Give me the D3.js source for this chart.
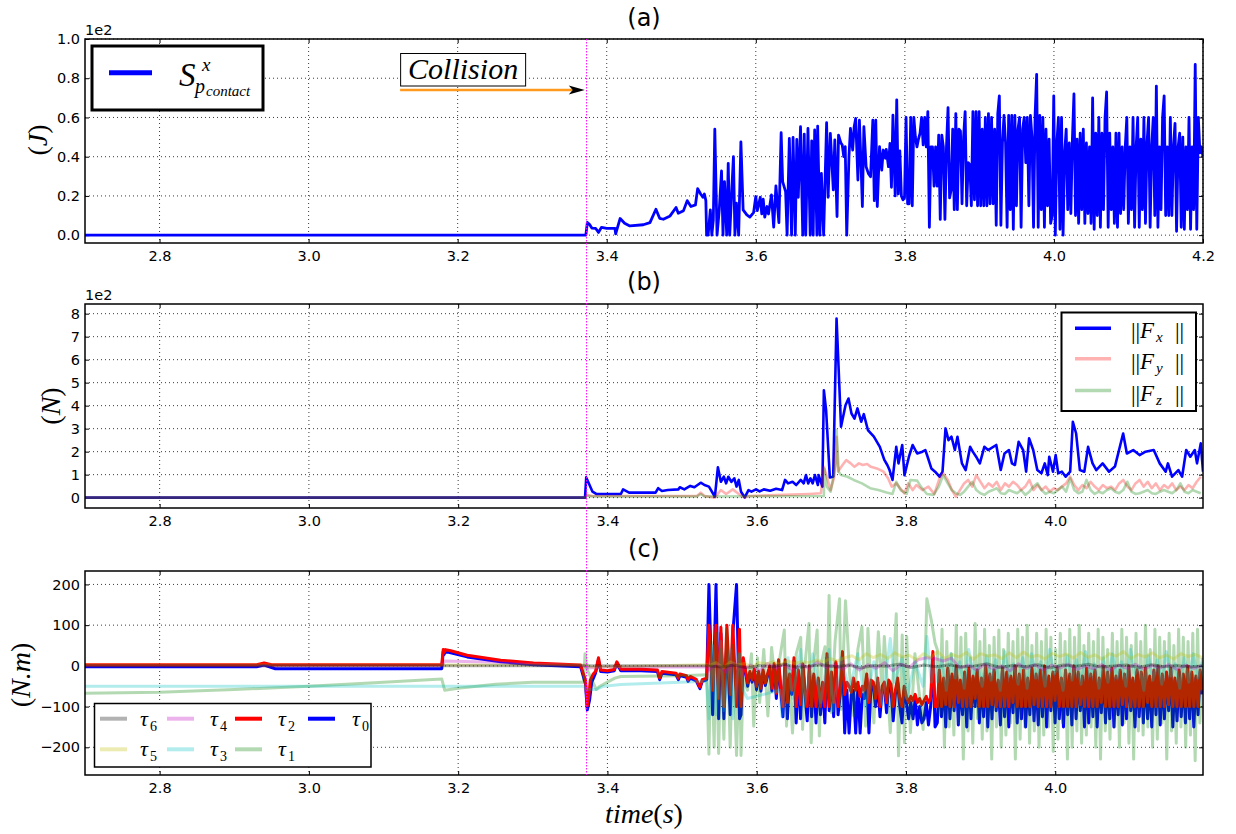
<!DOCTYPE html>
<html><head><meta charset="utf-8">
<script src="https://cdn.jsdelivr.net/npm/d3@7"></script>
<style>body{margin:0;background:#fff}svg{display:block}</style>
</head><body><svg id="c" width="1236" height="834"></svg>
<script>
// ---------------- DATA ----------------
const panelTitles = ["(a)", "(b)", "(c)"];
const xTicksA = [2.8, 3.0, 3.2, 3.4, 3.6, 3.8, 4.0, 4.2];
const xTicksBC = [2.8, 3.0, 3.2, 3.4, 3.6, 3.8, 4.0];
const yTicksA = [0, 20, 40, 60, 80, 100];
const yTicksB = [0, 100, 200, 300, 400, 500, 600, 700, 800];
const yTicksC = [-200, -100, 0, 100, 200];
const collisionTime = 3.373;

// (a) S^x_{p_contact}  [time s, J]
const sContactPairs = [[2.7,0],[3.372,0],[3.374,6.5],[3.377,5.4],[3.38,3.6],[3.385,3.5],[3.389,1.4],[3.393,4],[3.4,3.5],[3.411,3.5],[3.412,0.7],[3.418,8.5],[3.424,6.1],[3.431,4.7],[3.449,5.3],[3.458,6.4],[3.466,13.2],[3.471,8.6],[3.476,8.1],[3.485,9.8],[3.493,14.1],[3.496,11.2],[3.503,12.5],[3.508,17.6],[3.513,14.6],[3.519,15.4],[3.522,23.7],[3.526,21],[3.529,19.3],[3.531,21],[3.533,17.6],[3.534,0],
[3.536,0],[3.539,12.9],[3.541,0],[3.543,7.8],[3.545,54],[3.548,0],[3.551,12.9],[3.554,32.7],[3.556,0],[3.558,27.3],[3.561,0],[3.563,36.6],[3.565,0],[3.568,24.7],[3.570,40],[3.572,0],[3.574,16.3],[3.577,0],[3.580,47.6],[3.583,12.9],[3.588,10.3],[3.592,9.2],[3.597,11.5],[3.600,19.7],[3.602,12.5],[3.606,19.3],[3.608,10.8],[3.610,18.3],[3.612,9.2],[3.615,14.6],[3.617,10.8],[3.621,20.5],[3.624,4.1],[3.627,25.1],[3.631,6.4],[3.634,52.2],[3.636,27.3],[3.640,22.2],[3.642,0],[3.645,49.3],[3.648,0],[3.650,49.8],[3.653,0],[3.655,48.8],[3.657,19.3],[3.660,55.3],[3.663,0],[3.665,51.5],[3.667,0],[3.670,54.4],[3.673,0],[3.675,48.1],[3.677,0],[3.679,53.6],[3.682,0],[3.683,55.6],[3.686,0],[3.688,31.5],[3.691,0],[3.695,57.3],[3.697,19.3],[3.700,51.9],[3.704,23.1],[3.706,48.5],[3.709,9.5],[3.711,51],[3.714,47.1],[3.716,45.9],[3.718,40],[3.720,45.1],[3.722,0],[3.725,40],[3.727,54.4],[3.730,43.4],[3.732,55.3],[3.734,59.5],[3.737,28.1],[3.739,58.6],[3.741,38.3],[3.743,14.6],[3.745,55.3],[3.748,34.9],[3.751,31.5],[3.754,29.8],[3.757,58.6],[3.759,17.6],[3.761,58.6],[3.763,14.6],[3.766,45.1],[3.769,33.2],[3.771,43.4],[3.774,39.2],[3.775,43.7],[3.778,34.9],[3.780,46.8],[3.782,24.4],[3.784,61.2]];
const sContactDenseSpan = [3.787, 4.2];
const sContactDense = [20,69,21,43,20,18,19,60,16,16,60,15,60,50,45,49,52,60,46,60,45,63,4,45,45,25,45,25,51,8,51,45,8,45,65,19,23,54,13,62,13,54,53,16,50,63,15,37,36,15,63,18,63,15,63,15,54,15,60,15,62,16,60,16,54,5,62,71,5,47,61,47,4,61,13,61,3,61,15,54,60,4,54,60,37,60,15,61,50,4,61,82,4,61,13,60,4,54,15,49,6,10,71,0,47,60,3,60,0,42,54,13,47,11,49,72,10,49,6,52,13,54,6,47,11,45,6,70,3,52,10,60,4,52,13,60,73,4,52,13,45,6,52,4,52,11,45,13,45,60,6,45,13,60,4,45,60,4,49,13,60,6,47,60,4,45,60,10,76,4,45,13,60,71,10,45,10,60,10,45,57,2,45,52,4,50,3,45,13,60,3,45,13,87,3,60,42,45,40];

// (b) forces [time s, N]
const fxPairs = [[2.7,0],[3.37,0],[3.3716,88],[3.380,26],[3.385,16],[3.418,16],[3.421,36],[3.429,22],[3.4645,22],[3.468,41],[3.473,29],[3.481,33],[3.495,36],[3.497,45],[3.503,36],[3.511,51],[3.5165,45],[3.525,65],[3.530,55],[3.536,48],[3.544,4],[3.548,132],[3.552,69],[3.556,91],[3.559,62],[3.562,91],[3.566,69],[3.570,84],[3.573,48],[3.576,77],[3.579,26],[3.584,1],[3.589,33],[3.593,26],[3.599,36],[3.604,27],[3.6095,36],[3.618,30],[3.626,39],[3.634,33],[3.638,77],[3.642,62],[3.648,69],[3.653,55],[3.659,77],[3.663,62],[3.666,98],[3.669,62],[3.672,84],[3.675,62],[3.678,98],[3.682,55],[3.683,98],[3.688,48],[3.690,467],[3.693,381],[3.698,88],[3.7025,91],[3.707,779],[3.713,308],[3.719,402],[3.723,431],[3.727,366],[3.731,344],[3.735,388],[3.740,330],[3.7435,363],[3.749,294],[3.757,265],[3.765,221],[3.771,164],[3.775,142],[3.778,120],[3.782,77],[3.787,221],[3.790,149],[3.795,229],[3.798,98],[3.804,178],[3.809,229],[3.815,192],[3.822,200],[3.826,207],[3.829,178],[3.834,127],[3.839,113],[3.845,91],[3.849,113],[3.853,301],[3.857,250],[3.861,265],[3.8655,207],[3.869,265],[3.875,149],[3.880,120],[3.886,221],[3.8895,200],[3.894,178],[3.899,149],[3.905,221],[3.910,207],[3.921,229],[3.927,120],[3.932,192],[3.938,207],[3.942,149],[3.946,142],[3.951,243],[3.957,207],[3.961,113],[3.965,258],[3.9705,207],[3.976,120],[3.9815,106],[3.986,149],[3.990,98],[3.992,178],[3.997,113],[4.0006,185],[4.004,106],[4.009,113],[4.014,91],[4.020,113],[4.0236,330],[4.028,279],[4.033,120],[4.039,113],[4.044,221],[4.050,149],[4.055,120],[4.0635,149],[4.072,113],[4.080,135],[4.091,279],[4.096,192],[4.1045,207],[4.113,185],[4.121,200],[4.132,207],[4.140,149],[4.148,113],[4.151,149],[4.1565,91],[4.165,120],[4.170,91],[4.1755,207],[4.181,178],[4.187,207],[4.190,149],[4.195,236],[4.198,113]];
const fyPairs = [[2.7,0],[3.37,0],[3.372,12],[3.38,7],[3.52,7],[3.525,22],[3.53,7],[3.544,0],[3.552,33],[3.559,16],[3.568,36],[3.576,16],[3.584,0],[3.589,7],[3.637,12],[3.670,16],[3.686,19],[3.690,134],[3.694,91],[3.699,33],[3.704,91],[3.707,265],[3.709,114],[3.715,142],[3.720,163],[3.726,149],[3.731,134],[3.737,149],[3.742,142],[3.748,146],[3.753,134],[3.761,127],[3.770,113],[3.776,84],[3.781,48],[3.787,62],[3.792,41],[3.798,19],[3.803,62],[3.809,33],[3.814,55],[3.822,33],[3.830,48],[3.838,16],[3.845,84],[3.850,106]];
const fzPairs = [[2.7,0],[3.37,0],[3.372,8],[3.38,5],[3.52,5],[3.525,15],[3.53,5],[3.69,7],[3.6905,127],[3.694,48],[3.699,26],[3.706,150],[3.707,294],[3.710,113],[3.713,98],[3.7216,91],[3.730,77],[3.741,62],[3.752,41],[3.763,33],[3.774,22],[3.782,16],[3.787,69],[3.793,33],[3.801,16],[3.806,77],[3.815,74],[3.820,48],[3.828,16],[3.837,12],[3.844,48],[3.850,98]];
const fDenseSpan = [3.856, 4.195];
const fyDense = [77,33,4,33,62,77,48,98,69,41,62,48,69,33,62,48,69,55,33,48,77,33,55,33,48,26,41,33,48,62,91,55,33,55,41,69,48,33,55,41,48,33,62,77,48,33,62,77,48,69,41,62,33,55,41,62,33,48,33,55,41,69,91];
const fzDense = [62,33,19,12,26,48,69,33,19,12,26,33,41,19,16,33,26,19,33,12,26,48,62,33,16,26,19,33,48,26,84,33,19,26,77,33,16,26,19,33,41,26,19,33,69,26,16,19,26,33,19,16,26,33,26,19,33,62,26,19,33,26,19];

// (c) joint torques [time s, N.m]
const tau0Pairs = [[2.7,-2],[2.93,-2],[2.94,2],[2.955,-7],[3.178,-7],[3.18,35],[3.181,28],[3.183,35],[3.19,32],[3.212,22],[3.257,10],[3.301,3],[3.364,-2],[3.3706,-45],[3.373,-108],[3.376,-85],[3.379,-40],[3.384,-18],[3.388,15],[3.391,-14],[3.4,-15],[3.409,-12],[3.4126,6],[3.418,-12],[3.445,-12],[3.467,-14],[3.470,-34],[3.473,-18],[3.492,-22],[3.495,-34],[3.497,-24],[3.506,-28],[3.508,-38],[3.511,-30],[3.519,-37],[3.524,-56],[3.527,-38],[3.533,-34],
[3.536,200],[3.541,-120],[3.5455,200],[3.549,-130],[3.552,80],[3.556,-130],[3.560,60],[3.5645,-120],[3.568,80],[3.573,200],[3.577,-130],[3.579,-120]];
const tau2Pairs = [[2.7,3],[2.93,3],[2.94,7],[2.95,3],[3.178,3],[3.18,40],[3.181,33],[3.183,40],[3.19,37],[3.212,26],[3.257,14],[3.301,7],[3.364,2],[3.3706,-35],[3.373,-98],[3.375,-76],[3.377,-35],[3.381,-20],[3.384,-14],[3.388,20],[3.391,-10],[3.4,-12],[3.409,-9],[3.4126,10],[3.418,-8],[3.445,-8],[3.467,-10],[3.470,-30],[3.473,-14],[3.492,-18],[3.495,-30],[3.497,-20],[3.506,-24],[3.508,-34],[3.511,-26],[3.519,-33],[3.524,-52],[3.527,-34],[3.533,-30],
[3.536,100],[3.541,-60],[3.5455,100],[3.549,-80],[3.552,95],[3.556,-100],[3.560,100],[3.5645,-70],[3.568,100],[3.573,-100],[3.577,90],[3.579,-100]];
const tauMidSpan = [3.582, 3.839];
const tau2Mid = [20,-10,-42,-14,-34,-8,-50,-14,-55,-10,-42,-20,0,-55,6,-67,15,-50,-100,
  15,-90,-20,-60,20,-100,-10,-95,5,-60,-100,0,-100,-20,-100,-30,-100,-40,-100,30,-100,-15,-90,10,-100,-60,
  35,-70,-40,-50,-65,-30,-60,-40,-75,-50,-60,
  -20,-90,-35,-40,-80,-30,-100,-50,-40,-90,-35,-45,-100,-60,-30,-80,-100,-50,-75,-90,
  -75,-85,-70,-90,-80,-95,-85,-75,-90,-80,35,-100];
const tau0Mid = [10,-15,-50,-18,-40,-12,-58,-18,-62,-15,-48,-25,-5,-62,0,-80,8,-60,-125,
  8,-130,-25,-70,12,-140,-15,-130,0,-70,-135,-5,-125,-25,-140,-35,-120,-45,-140,20,-110,-20,-125,5,-120,-70,
  25,-165,-60,-165,-70,-60,-165,-50,-165,-70,-80,
  -30,-165,-40,-50,-100,-40,-125,-60,-50,-115,-45,-55,-135,-70,-40,-100,-140,-60,-90,-130,
  -90,-130,-80,-145,-100,-140,-130,-90,-145,-100,25,-150];
const tau1Pairs = [[2.7,-67],[2.8,-65],[2.9,-58],[3.0,-50],[3.1,-40],[3.178,-32],[3.182,-60],[3.2,-55],[3.25,-45],[3.3,-40],[3.368,-40],[3.370,30],[3.373,-10],[3.378,-30],[3.385,-58],[3.39,-50],[3.40,-40],[3.41,-30],[3.418,-26],[3.5,-24],[3.533,-22],
[3.536,-217],[3.539,60],[3.543,-200],[3.5455,80],[3.549,-215],[3.552,40],[3.556,-180],[3.560,90],[3.5645,-200],[3.568,50],[3.573,-220],[3.577,30],[3.579,-220],[3.582,-30],[3.5876,-60],[3.593,30],[3.596,-148],[3.601,20],[3.604,-90],[3.6095,40],[3.615,-123],[3.620,45],[3.626,-60],[3.631,20],[3.637,88],[3.640,-148],[3.643,0],[3.648,-165],[3.653,30],[3.659,70],[3.6615,-156],[3.665,10],[3.670,104],[3.673,-189],[3.677,20],[3.681,88],[3.684,-172],[3.687,10],[3.6915,47],[3.694,-80],[3.697,173],[3.700,-115],[3.705,60],[3.711,165],[3.713,-107],[3.719,160],[3.7245,-20],[3.730,-123],[3.7355,40],[3.741,96],[3.746,-148],[3.749,92],[3.753,-50],[3.757,-140],[3.763,84],[3.768,-60],[3.771,72],[3.779,-164],[3.787,128],[3.790,-221],[3.795,76],[3.798,-189],[3.801,72],[3.806,-164],[3.812,30],[3.823,-156],[3.828,165],[3.834,112],[3.839,56]];
const tau3Pairs = [[2.7,-50],[3.368,-50],[3.372,-58],[3.385,-58],[3.395,-50],[3.418,-46],[3.533,-38],
[3.536,-130],[3.541,50],[3.5455,-120],[3.552,60],[3.556,-110],[3.5645,40],[3.568,-130],[3.577,30],[3.582,-60],[3.5876,-80],[3.6095,-70],[3.631,-60],[3.634,-124],[3.637,-40],[3.642,20],[3.648,-80],[3.659,40],[3.664,-100],[3.675,30],[3.686,-90],[3.6915,-20],[3.697,40],[3.702,-110],[3.713,20],[3.7245,-60],[3.7355,30],[3.746,-100],[3.757,10],[3.768,-95],[3.779,67],[3.7845,-40],[3.795,20],[3.801,-80],[3.812,10],[3.823,-50],[3.828,72],[3.834,-40],[3.839,10]];
const tau4Pairs = [[2.7,0],[3.178,0],[3.182,12],[3.25,9],[3.3,4],[3.368,1],[3.373,-5],[3.4,-3],[3.533,-2]];
const tau5Pairs = [[2.7,2],[3.37,2],[3.38,-3],[3.533,3]];
const tau6Pairs = [[2.7,0],[3.533,0]];
const tauDenseSpanA = [3.536, 4.197];
const tauDenseSpanB = [3.842, 4.197];
const tau2Dense = [-100,-10,-100,-30,-95,-5,-100,-20,-100,0,-90,-35,-100,-15,-100,-5,-100,-25,-80,-10,-100,-30,-100,0,-100,-20,-95,-10,-100,-35,-100,-5,-100,-15,-100,-25,-90,0,-100,-20,-100,-10,-100,-30,-100,-5,-95,-20,-100,-10,-100,0,-100,-25,-100,-15,-85,-5,-100,-30,-100,-10,-100,-20,-100,0,-100,-15,-95,-25,-100,-5,-100,-20,-100,-10,-100,-30,-90,0,-100,-15,-100,-5,-100,-25,-100,-10,-95,-20,-100,0,-100,-30,-100,-10,-100,-15,-100,-5,-90,-25,-100,-10,-100,0,-100,-20,-100,-15,-95,-5,-100,-30,-100,-10,-100,-20,-100,0,-100,-15,-100,-25,-100,-10,-60];
const tau0Dense = [-140,-15,-125,-35,-150,-10,-130,-25,-110,-5,-145,-40,-120,-20,-150,-10,-130,-30,-100,-15,-140,-35,-125,-5,-150,-25,-130,-15,-110,-40,-145,-10,-125,-20,-150,-30,-115,-5,-140,-25,-130,-15,-150,-35,-120,-10,-135,-25,-145,-15,-125,-5,-150,-30,-110,-20,-140,-10,-130,-35,-150,-15,-120,-25,-145,-5,-130,-20,-110,-30,-150,-10,-140,-25,-125,-15,-150,-35,-115,-5,-140,-20,-130,-10,-150,-30,-120,-15,-145,-25,-130,-5,-110,-35,-150,-15,-125,-20,-140,-10,-130,-30,-150,-15,-120,-5,-145,-25,-130,-20,-110,-10,-150,-35,-135,-15,-125,-25,-140,-5,-130,-20,-150,-30,-120,-15,-70];
const tau1Dense = [40,-120,90,-200,60,-150,30,-170,100,-140,70,-229,80,-160,20,-190,104,-130,60,-180,90,-160,50,-229,70,-150,88,-200,40,-170,80,-140,60,-229,90,-180,70,-150,100,-190,50,-160,80,-200,60,-170,90,-150,70,-210,40,-180,80,-140,60,-229,90,-200,70,-160,100,-190,50,-170,80,-150,60,-200,90,-229,70,-160,40,-180,80,-150,60,-200,90,-140,70,-190,50,-229,80,-160,60,-170,100,-150,40,-200,90,-180,70,-140,60,-229,80,-160,50,-190,90,-150,70,-200,60,-170,80,-233,90,-140,20];
const tau3Dense = [-40,20,-60,30,-30,10,-55,40,-20,0,-50,25,-35,15,-60,35,-25,5,-45,20,-55,30,-30,10,-50,40,-20,0,-60,25,-35,15,-45,35,-25,5,-55,20,-40,30,-30,10,-50,40,-20,0,-60,25,-35,15,-45,35,-25,5,-55,20,-40,30,-30,10];
const tau4Dense = [-10,5,-15,8,-8,2,-12,6,-5,3,-10,4,-6,10,-4,2,-8,5,-10,3,-6,8,-12,4,-3,15,20,18,12,19,-5,2,-10,4,-8,0,-12,5,-6,3,-10,2,-5,4,-9,0,-7,3,-11,2,-6,4,-8,1,-5,3,-9,2,-6,1];
const tau5Dense = [0,8,-5,10,2,6,-3,8,5,10,3,12,6,10,8,14,10,18,12,20,25,15,30,20,28,18,32,22,26,15,30,20,35,18,28,22,33,16,30,24,27,18,32,20,34,22,26,17,31,23,29,19,33,21,27,16,30,24,35,18,28,22,32,20,26,17,30,23,28,20];
const tau6Dense = [0,-3,2,-5,1,-2,4,-4,0,3,-3,2,-5,1,-1,4,-4,2,-2,3,-3,0,5,-4,1,-2,3,-5,2,-1,4,-3,0,2,-4,3,-2,1,-3,0];

const forceLabels = ["x", "y", "z"];
const tauLegendOrder = [6, 5, 4, 3, 2, 1, 0];

// ---------------- RENDER ----------------
const svg = d3.select("#c");
const L = 85, R = 1203;
const SANS = "DejaVu Sans", SERIF = "Liberation Serif";
const frames = {
  a: {top: 39, bottom: 243},
  b: {top: 304, bottom: 508},
  c: {top: 571, bottom: 775}
};
const xA = d3.scaleLinear().domain([2.7, 4.2]).range([L, R]);
const xBC = d3.scaleLinear().domain([2.7, 4.198]).range([L, R]);
const yA = d3.scaleLinear().domain([-4, 100]).range([frames.a.bottom, frames.a.top]);
const yB = d3.scaleLinear().domain([-45, 842]).range([frames.b.bottom, frames.b.top]);
const yC = d3.scaleLinear().domain([-268, 233]).range([frames.c.bottom, frames.c.top]);

function spread(span, vals) {
  const n = vals.length;
  return vals.map((v, i) => [span[0] + (span[1] - span[0]) * i / (n - 1), v]);
}
function withDense(pairs, span, vals) { return pairs.concat(spread(span, vals)); }

function frame(id, x, y, xt, xf, yt, yf, fr) {
  const g = svg.append("g");
  svg.append("clipPath").attr("id", "clip-" + id).append("rect")
    .attr("x", L).attr("y", fr.top).attr("width", R - L).attr("height", fr.bottom - fr.top);
  const grid = g.append("g").attr("stroke", "#000").attr("stroke-width", 0.9)
    .attr("stroke-dasharray", "1,3").attr("opacity", 0.85);
  xt.forEach(t => grid.append("line").attr("x1", x(t)).attr("x2", x(t)).attr("y1", fr.top).attr("y2", fr.bottom));
  yt.forEach(v => grid.append("line").attr("x1", L).attr("x2", R).attr("y1", y(v)).attr("y2", y(v)));
  const style = sel => {
    sel.select(".domain").remove();
    sel.attr("font-family", SANS).attr("font-size", 14.5);
    sel.selectAll("line").attr("stroke", "#000").attr("stroke-width", 1);
    sel.selectAll("text").attr("fill", "#000");
  };
  g.append("g").attr("transform", `translate(0,${fr.bottom})`)
    .call(d3.axisBottom(x).tickValues(xt).tickFormat(xf).tickSizeInner(-4).tickSizeOuter(0).tickPadding(8)).call(style);
  g.append("g").attr("transform", `translate(0,${fr.top})`)
    .call(d3.axisTop(x).tickValues(xt).tickFormat(() => "").tickSizeInner(-4).tickSizeOuter(0)).call(style);
  g.append("g").attr("transform", `translate(${L},0)`)
    .call(d3.axisLeft(y).tickValues(yt).tickFormat(yf).tickSizeInner(-4).tickSizeOuter(0).tickPadding(5)).call(style);
  g.append("g").attr("transform", `translate(${R},0)`)
    .call(d3.axisRight(y).tickValues(yt).tickFormat(() => "").tickSizeInner(-4).tickSizeOuter(0)).call(style);
  return g;
}

function border(fr) {
  svg.append("rect").attr("x", L).attr("y", fr.top).attr("width", R - L).attr("height", fr.bottom - fr.top)
    .attr("fill", "none").attr("stroke", "#000").attr("stroke-width", 1.5);
}

function series(id, x, y, data, color, width, opacity) {
  svg.append("path").datum(data)
    .attr("clip-path", `url(#clip-${id})`)
    .attr("fill", "none").attr("stroke", color).attr("stroke-width", width)
    .attr("stroke-opacity", opacity).attr("stroke-linejoin", "round")
    .attr("d", d3.line().x(d => x(d[0])).y(d => y(d[1])));
}

const minus = s => s.replace("-", "\u2212");

// ---- Panel (a)
frame("a", xA, yA, xTicksA, d => d.toFixed(1), yTicksA, d => (d / 100).toFixed(1), frames.a);
series("a", xA, yA, withDense(sContactPairs, sContactDenseSpan, sContactDense), "#0000ff", 2.8, 1);
border(frames.a);

// ---- Panel (b)
frame("b", xBC, yB, xTicksBC, d => d.toFixed(1), yTicksB, d => String(d / 100), frames.b);
series("b", xBC, yB, fxPairs, "#0000ff", 2.6, 1);
series("b", xBC, yB, withDense(fyPairs, fDenseSpan, fyDense), "#ff0000", 2.6, 0.3);
series("b", xBC, yB, withDense(fzPairs, fDenseSpan, fzDense), "#008000", 2.6, 0.3);
border(frames.b);

// ---- Panel (c)
frame("c", xBC, yC, xTicksBC, d => d.toFixed(1), yTicksC, d => minus(String(d)), frames.c);
const tauColors = {0: ["#0000ff", 1], 1: ["#008000", 0.3], 2: ["#ff0000", 1], 3: ["#00bfbf", 0.3], 4: ["#bf00bf", 0.3], 5: ["#bfbf00", 0.3], 6: ["#000000", 0.3]};
const tauData = {
  0: tau0Pairs.concat(spread(tauMidSpan, tau0Mid), spread(tauDenseSpanB, tau0Dense)),
  2: tau2Pairs.concat(spread(tauMidSpan, tau2Mid), spread(tauDenseSpanB, tau2Dense)),
  1: withDense(tau1Pairs, tauDenseSpanB, tau1Dense),
  3: withDense(tau3Pairs, tauDenseSpanB, tau3Dense),
  4: withDense(tau4Pairs, tauDenseSpanA, tau4Dense),
  5: withDense(tau5Pairs, tauDenseSpanA, tau5Dense),
  6: withDense(tau6Pairs, tauDenseSpanA, tau6Dense)
};
[0, 2, 1, 3, 4, 5, 6].forEach(k => series("c", xBC, yC, tauData[k], tauColors[k][0], 3, tauColors[k][1]));
border(frames.c);

// ---- Titles
[[panelTitles[0], 26], [panelTitles[1], 290], [panelTitles[2], 557]].forEach(([t, yy]) =>
  svg.append("text").attr("x", (L + R) / 2).attr("y", yy).attr("text-anchor", "middle")
    .attr("font-family", SANS).attr("font-size", 24).text(t));

// ---- offset texts
svg.append("text").attr("x", L).attr("y", 35).attr("font-family", SANS).attr("font-size", 14.5).text("1e2");
svg.append("text").attr("x", L).attr("y", 300).attr("font-family", SANS).attr("font-size", 14.5).text("1e2");

// ---- axis labels (math style)
function mathLabel(x, y, rot, parts, size) {
  const t = svg.append("text").attr("transform", `translate(${x},${y}) rotate(${rot})`)
    .attr("text-anchor", "middle").attr("dominant-baseline", "central")
    .attr("font-family", SERIF).attr("font-size", size);
  parts.forEach(([s, it]) => t.append("tspan").attr("font-style", it ? "italic" : "normal").text(s));
}
mathLabel(37, 140, -90, [["(", 0], ["J", 1], [")", 0]], 28);
mathLabel(50, 406, -90, [["(", 0], ["N", 1], [")", 0]], 28);
mathLabel(20, 675, -90, [["(", 0], ["N.m", 1], [")", 0]], 28);
mathLabel(644, 813, 0, [["time", 1], ["(", 0], ["s", 1], [")", 0]], 28);

// ---- collision marker
svg.append("line").attr("x1", xA(collisionTime)).attr("x2", xA(collisionTime))
  .attr("y1", frames.a.top).attr("y2", frames.c.bottom)
  .attr("stroke", "#ff00ff").attr("stroke-width", 1).attr("stroke-dasharray", "1.5,1.5");
const arrowY = yA(74), arrowX0 = xA(3.1228), tipX = xA(3.3705);
svg.append("line").attr("x1", arrowX0).attr("x2", tipX - 12).attr("y1", arrowY).attr("y2", arrowY)
  .attr("stroke", "#ff9a1f").attr("stroke-width", 2.5);
svg.append("path").attr("d", `M${tipX},${arrowY} L${tipX - 16},${arrowY - 4.5} L${tipX - 12},${arrowY} L${tipX - 16},${arrowY + 4.5} Z`).attr("fill", "#000");
svg.append("rect").attr("x", arrowX0 + 0.5).attr("y", 53.5).attr("width", 125).attr("height", 32.5)
  .attr("fill", "#fff").attr("stroke", "#000").attr("stroke-width", 1);
svg.append("text").attr("x", arrowX0 + 63).attr("y", 79).attr("text-anchor", "middle")
  .attr("font-family", SERIF).attr("font-style", "italic").attr("font-size", 30).text("Collision");

// ---- legend (a)
svg.append("rect").attr("x", 92).attr("y", 46).attr("width", 171).attr("height", 64)
  .attr("fill", "#fff").attr("stroke", "#000").attr("stroke-width", 3);
svg.append("line").attr("x1", 109).attr("x2", 152).attr("y1", 72.7).attr("y2", 72.7).attr("stroke", "#0000ff").attr("stroke-width", 5);
svg.append("text").attr("x", 179).attr("y", 86).attr("font-family", SERIF).attr("font-style", "italic").attr("font-size", 33).text("S");
svg.append("text").attr("x", 202).attr("y", 71).attr("font-family", SERIF).attr("font-style", "italic").attr("font-size", 19).text("x");
svg.append("text").attr("x", 195).attr("y", 93).attr("font-family", SERIF).attr("font-style", "italic").attr("font-size", 20).text("p");
svg.append("text").attr("x", 206).attr("y", 96).attr("font-family", SERIF).attr("font-style", "italic").attr("font-size", 15).text("contact");

// ---- legend (b)
svg.append("rect").attr("x", 1061.5).attr("y", 312.5).attr("width", 134.5).attr("height", 98.5)
  .attr("fill", "#fff").attr("stroke", "#000").attr("stroke-width", 2);
const fColors = [["#0000ff", 1], ["#ff0000", 0.3], ["#008000", 0.3]];
const fRows = [328.3, 358.8, 390.5];
forceLabels.forEach((lab, i) => {
  const ly = fRows[i];
  svg.append("line").attr("x1", 1075).attr("x2", 1111).attr("y1", ly).attr("y2", ly)
    .attr("stroke", fColors[i][0]).attr("stroke-opacity", fColors[i][1]).attr("stroke-width", 3.5);
  const base = ly + 10;
  svg.append("text").attr("x", 1131).attr("y", base + 1).attr("font-family", SERIF).attr("font-size", 23).text("||");
  svg.append("text").attr("x", 1140).attr("y", base).attr("font-family", SERIF).attr("font-style", "italic").attr("font-size", 23).text("F");
  svg.append("text").attr("x", 1156).attr("y", base + 4).attr("font-family", SERIF).attr("font-style", "italic").attr("font-size", 15).text(lab);
  svg.append("text").attr("x", 1175).attr("y", base + 1).attr("font-family", SERIF).attr("font-size", 23).text("||");
});

// ---- legend (c)
svg.append("rect").attr("x", 94.5).attr("y", 703.5).attr("width", 276.5).attr("height", 63.5)
  .attr("fill", "#fff").attr("stroke", "#000").attr("stroke-width", 1.5);
const colLineX = [100, 167, 235, 308], colTextX = [140, 210, 278, 352], rowY = [718.7, 749.3];
tauLegendOrder.forEach((k, i) => {
  const col = Math.floor(i / 2), row = i % 2;
  const ly = rowY[row];
  svg.append("line").attr("x1", colLineX[col]).attr("x2", colLineX[col] + 27).attr("y1", ly).attr("y2", ly)
    .attr("stroke", tauColors[k][0]).attr("stroke-opacity", tauColors[k][1]).attr("stroke-width", 4);
  svg.append("text").attr("x", colTextX[col]).attr("y", ly + 7).attr("font-family", SERIF).attr("font-style", "italic").attr("font-size", 22).text("\u03c4");
  svg.append("text").attr("x", colTextX[col] + 10).attr("y", ly + 12).attr("font-family", SERIF).attr("font-size", 14).text(String(k));
});
</script></body></html>
